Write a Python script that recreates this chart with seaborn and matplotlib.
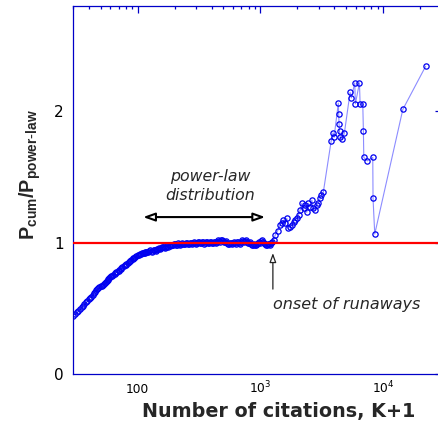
import numpy as np
import pandas as pd
import matplotlib
matplotlib.use("Agg")
import matplotlib.pyplot as plt
import seaborn as sns

# ---------------- data ----------------
K_dense = [30, 31, 32, 34, 35, 36, 38, 39, 41, 42,
           44, 45, 47, 49, 51, 53, 55, 57, 59, 61,
           63, 66, 68, 71, 74, 77, 80, 83, 86, 89,
           92, 96, 100, 104, 108, 112, 116, 120, 125, 130,
           135, 140, 145, 150, 156, 162, 168, 175, 182, 189,
           196, 203, 211, 219, 227, 236, 245, 254, 264, 274,
           284, 295, 306, 318, 330, 343, 356, 370, 384, 398,
           413, 429, 445, 462, 480, 498, 517, 537, 557, 578,
           600, 623, 647, 672, 697, 724, 751, 780, 810, 840,
           872, 905, 940, 976, 1013, 1052, 1092, 1133, 1176, 1221]
R_dense = [0.443, 0.457, 0.470, 0.496, 0.509, 0.521, 0.545, 0.556, 0.577, 0.588,
           0.617, 0.626, 0.643, 0.659, 0.672, 0.687, 0.700, 0.714, 0.728, 0.742,
           0.752, 0.768, 0.778, 0.793, 0.807, 0.820, 0.833, 0.845, 0.857, 0.869,
           0.880, 0.893, 0.905, 0.913, 0.918, 0.922, 0.926, 0.930, 0.935, 0.938,
           0.942, 0.935, 0.950, 0.955, 0.960, 0.966, 0.962, 0.973, 0.976, 0.980,
           0.982, 0.986, 0.984, 0.990, 0.988, 0.992, 0.990, 0.995, 0.992, 0.997,
           0.995, 1.000, 0.996, 1.002, 0.998, 1.003, 0.997, 1.004, 0.999, 1.002,
           0.998, 1.003, 1.008, 1.012, 1.018, 1.014, 1.006, 0.996, 0.990, 0.995,
           1.000, 0.993, 1.002, 0.998, 1.008, 1.012, 1.015, 1.008, 0.996, 0.988,
           0.982, 0.985, 0.992, 1.005, 1.012, 1.008, 0.990, 0.985, 0.992, 1.000]

# in-between points of the dense band (its scatter)
K_dense2 = [33, 37, 40, 43,
            46, 48, 50, 52, 54, 56, 58, 60, 62,
            65, 67, 70, 73, 75, 79, 81, 85, 87, 91,
            94, 98, 102, 106, 110, 114, 118, 122, 127, 132,
            137, 142, 147, 153, 159, 165, 171, 178, 185, 192,
            199, 207, 215, 223, 231, 240, 249, 259, 269, 279,
            289, 300, 312, 324, 336, 349, 363, 377, 391, 405,
            421, 437, 453, 471, 489, 507, 527, 547, 567, 589,
            611, 635, 659, 684, 710, 737, 765, 795, 825, 856,
            888, 922, 958, 994, 1032, 1072, 1112, 1154, 1198, 1240]
R_dense2 = [0.483, 0.533, 0.567, 0.600,
            0.636, 0.651, 0.666, 0.680, 0.694, 0.707, 0.721, 0.735, 0.747,
            0.762, 0.773, 0.787, 0.802, 0.811, 0.829, 0.837, 0.853, 0.861, 0.875,
            0.886, 0.899, 0.908, 0.915, 0.920, 0.924, 0.928, 0.931, 0.940, 0.932,
            0.945, 0.940, 0.952, 0.950, 0.963, 0.968, 0.970, 0.970, 0.982, 0.978,
            0.990, 0.980, 0.994, 0.985, 0.996, 0.986, 0.998, 0.988, 1.000, 0.990,
            1.005, 0.990, 1.006, 0.993, 1.007, 0.992, 1.008, 0.994, 1.008, 0.993,
            1.008, 0.998, 1.016, 1.005, 1.022, 1.006, 1.012, 0.990, 0.998, 0.988,
            1.008, 0.988, 1.008, 0.992, 1.016, 1.004, 1.020, 0.998, 1.004, 0.982,
            0.990, 0.980, 1.000, 0.998, 1.018, 1.000, 0.982, 0.992, 0.985, 1.008]

K_tail = [1280, 1318, 1380, 1446, 1490, 1538, 1580, 1640, 1690, 1740,
          1800, 1860, 1915, 1976, 2040, 2102, 2170, 2240, 2308, 2380,
          2456, 2536, 2618, 2700, 2786, 2876, 2965, 3057, 3130, 3250,
          3760, 3900, 3970, 4300, 4330, 4360, 4400, 4450, 4620, 4820,
          5360, 5490, 5850, 5920, 6390, 6470, 6800, 6880, 6930, 7410,
          8200, 8240, 8510, 14400, 22100]
R_tail = [1.020, 1.057, 1.090, 1.133, 1.150, 1.171, 1.150, 1.184, 1.108, 1.120,
          1.133, 1.160, 1.171, 1.184, 1.210, 1.247, 1.298, 1.260, 1.285, 1.230,
          1.298, 1.272, 1.323, 1.260, 1.247, 1.285, 1.298, 1.336, 1.361, 1.386,
          1.772, 1.835, 1.800, 2.061, 1.977, 1.901, 1.846, 1.800, 1.787, 1.835,
          2.142, 2.101, 2.215, 2.056, 2.215, 2.051, 2.051, 1.848, 1.648, 1.622,
          1.648, 1.336, 1.065, 2.013, 2.342]

xtick_vals = [100, 1000, 10000]
xtick_labels = ["100", r"$10^3$", r"$10^4$"]
ytick_vals = [0, 1, 2]
ytick_labels = ["0", "1", "2"]

df = pd.DataFrame({"K": K_dense + K_dense2 + K_tail,
                   "ratio": R_dense + R_dense2 + R_tail})
df = df.sort_values("K", kind="stable").reset_index(drop=True)

# ---------------- figure ----------------
sns.set_style("white")
plt.rcParams["font.family"] = ["DejaVu Sans"]
plt.rcParams["mathtext.fontset"] = "custom"
plt.rcParams["mathtext.rm"] = "DejaVu Sans"
plt.rcParams["mathtext.it"] = "DejaVu Sans:italic"
plt.rcParams["mathtext.bf"] = "Liberation Sans:bold"

fig = plt.figure(figsize=(4.38, 4.30), dpi=100)
ax = fig.add_axes([73.3 / 438, 56 / 430, 368.7 / 438, 368 / 430])

sns.lineplot(data=df, x="K", y="ratio", ax=ax, estimator=None, sort=False,
             color="#8c8cff", lw=0.8, marker="o", markersize=3.8,
             mfc="none", mec="#0000f0", mew=0.9, zorder=2)

ax.axhline(1.0, color="#ff0000", lw=1.6, zorder=3)

ax.set_xscale("log")
ax.set_xlim(30, 30000)
ax.set_ylim(0, 2.8)

spine_c = "#0000c8"
for s in ax.spines.values():
    s.set_color(spine_c)
    s.set_linewidth(0.9)

ax.set_xticks(xtick_vals)
ax.set_xticklabels(xtick_labels)
ax.xaxis.set_minor_locator(matplotlib.ticker.LogLocator(base=10, subs=np.arange(2, 10)))
ax.xaxis.set_minor_formatter(matplotlib.ticker.NullFormatter())
ax.set_yticks(ytick_vals)
ax.set_yticklabels(ytick_labels)
ax.yaxis.set_minor_locator(matplotlib.ticker.MultipleLocator(0.1))

ax.tick_params(axis="both", which="both", direction="in", top=True, right=True,
               color=spine_c, width=0.9, labelcolor="black")
ax.tick_params(axis="x", which="major", length=5, labelsize=8.8, pad=14)
ax.tick_params(axis="x", which="minor", length=2.4)
ax.tick_params(axis="y", which="major", length=5, labelsize=11, pad=7)
ax.tick_params(axis="y", which="minor", length=3)
for lbl in ax.get_xticklabels():
    lbl.set_va("baseline")

ax.set_xlabel("Number of citations, K+1", fontsize=13.8, fontweight="bold")
ax.xaxis.set_label_coords(0.5566, -0.075)
ax.set_ylabel(r"$\mathbf{P}_{\mathbf{cum}}\mathbf{/P}_{\mathbf{power}\text{-}\mathbf{law}}$",
              fontsize=14.2)
ax.yaxis.set_label_coords(-0.083, 0.543)

# annotations
ax.annotate("", xy=(1092, 1.194), xytext=(111, 1.194),
            arrowprops=dict(arrowstyle="<|-|>,head_length=0.7,head_width=0.25",
                            fc="white", ec="black", lw=1.5, mutation_scale=10,
                            shrinkA=0, shrinkB=0))
ax.text(390, 1.43, "power-law\ndistribution", fontsize=11.3, style="italic",
        ha="center", va="center", linespacing=1.35)

ax.annotate("", xy=(1262, 0.92), xytext=(1262, 0.646),
            arrowprops=dict(arrowstyle="-|>,head_length=0.55,head_width=0.2",
                            fc="white", ec="#222222", lw=0.9, mutation_scale=10,
                            shrinkA=0, shrinkB=0))
ax.text(1262, 0.525, "onset of runaways", fontsize=11.5, style="italic",
        ha="left", va="center")

fig.savefig("out.png", dpi=100)
